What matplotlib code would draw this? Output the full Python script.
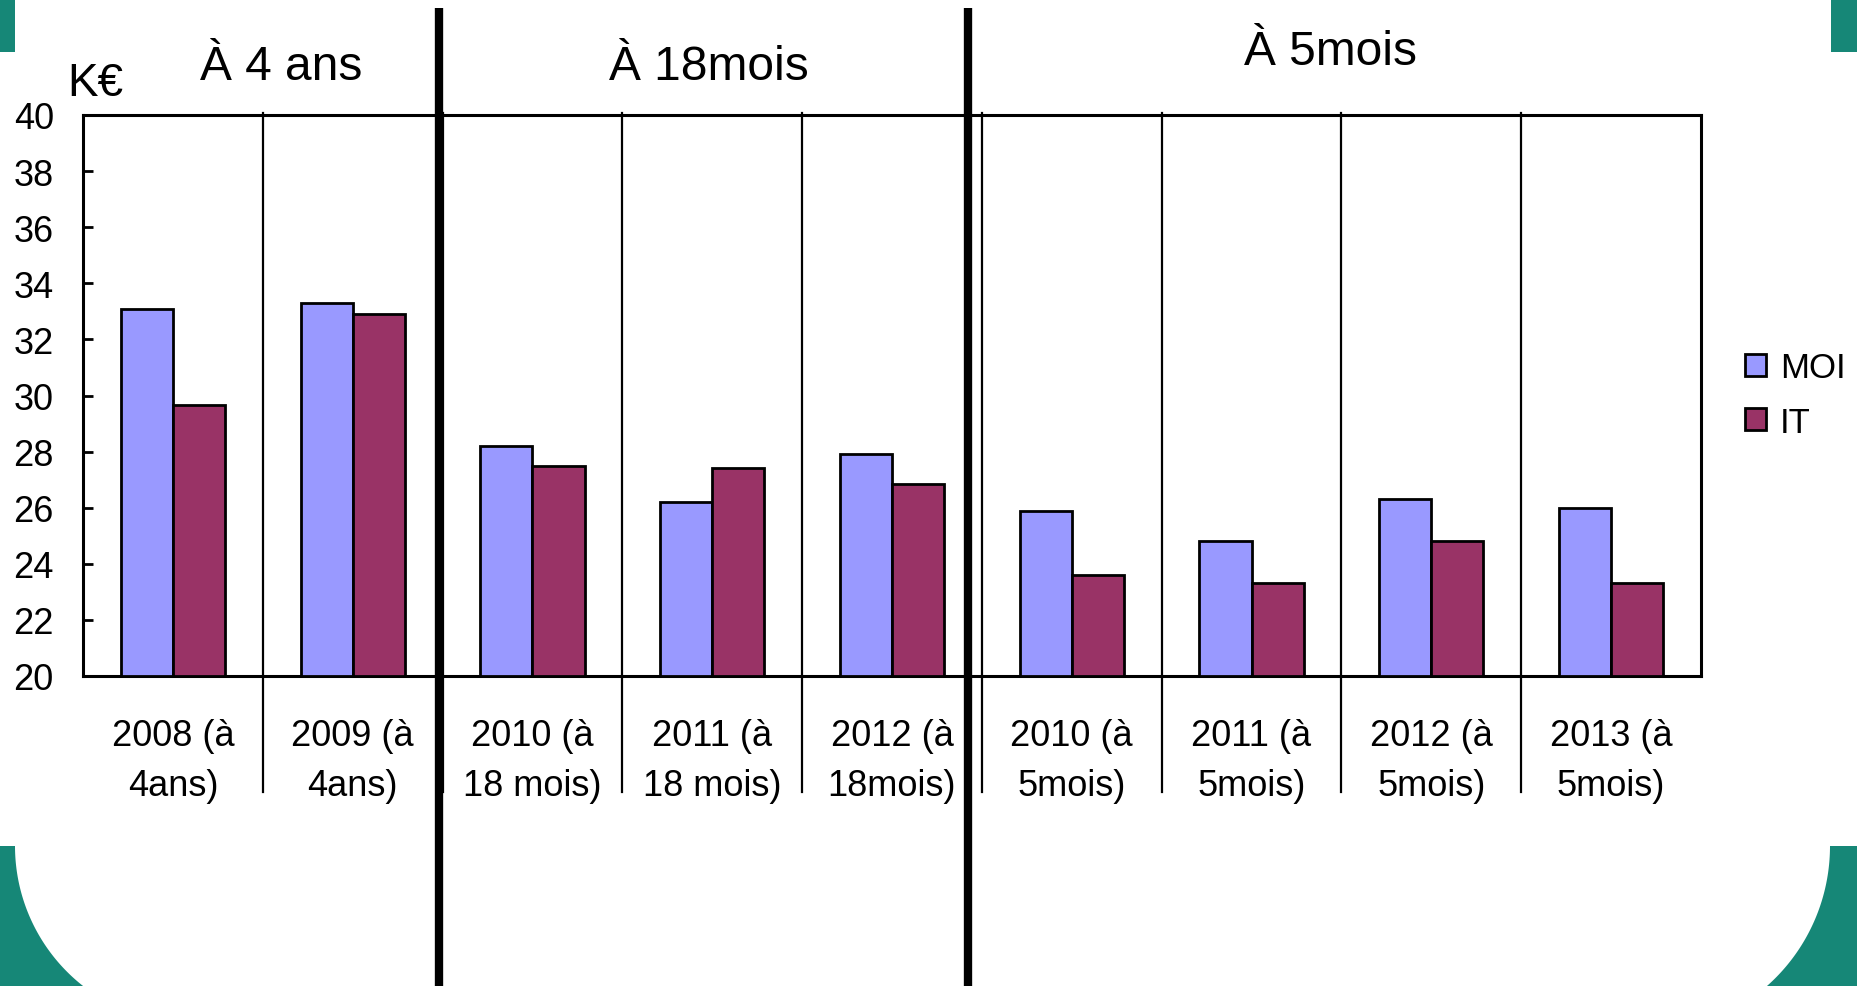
import numpy as np
import matplotlib
matplotlib.use("Agg")
import matplotlib.pyplot as plt
from matplotlib.patches import Polygon, Rectangle

plt.rcParams['font.family'] = ['Liberation Sans', 'DejaVu Sans']

# data
categories = ["2008 (à\n4ans)", "2009 (à\n4ans)", "2010 (à\n18 mois)", "2011 (à\n18 mois)",
              "2012 (à\n18mois)", "2010 (à\n5mois)", "2011 (à\n5mois)", "2012 (à\n5mois)",
              "2013 (à\n5mois)"]
moi = [33.1, 33.3, 28.2, 26.2, 27.9, 25.9, 24.8, 26.3, 26.0]
it = [29.65, 32.9, 27.5, 27.4, 26.85, 23.6, 23.3, 24.8, 23.3]
series_names = ["MOI", "IT"]
groups = ["À 4 ans", "À 18mois", "À 5mois"]
yticks = list(range(20, 41, 2))

# layout
W, H = 1858, 987
C_MOI = "#9999FF"
C_IT = "#993366"
TEAL = "#168777"
group_x = [0.6, 2.98, 6.44]          # data x of group titles
group_y = [1.064, 1.064, 1.091]      # axes y (baseline)
thick_x = [1.48, 4.42]               # thick dividers

fig = plt.figure(figsize=(W / 100, H / 100), dpi=100)
fig.patch.set_facecolor("white")

# background decoration (teal corners)
bg = fig.add_axes([0, 0, 1, 1], zorder=-5)
bg.set_xlim(0, W)
bg.set_ylim(H, 0)
bg.axis("off")
bg.add_patch(Rectangle((0, 0), 15, 53, color=TEAL, lw=0))
bg.add_patch(Rectangle((1831, 0), 27, 53, color=TEAL, lw=0))
R1 = 178
pts = [(0, 847)] + [(193 + R1 * np.cos(a), 847 + R1 * np.sin(np.pi - a)) for a in np.linspace(np.pi, np.pi - np.arcsin(140 / R1), 60)] + [(0, H)]
bg.add_patch(Polygon(pts, closed=True, color=TEAL, lw=0))
R2 = 187
pts = [(W, 847)] + [(1830 - R2 + R2 * np.cos(a), 847 + R2 * np.sin(a)) for a in np.linspace(0, np.arcsin(140 / R2), 60)] + [(W, H)]
bg.add_patch(Polygon(pts, closed=True, color=TEAL, lw=0))

ax = fig.add_axes([83 / W, 310 / H, (1701 - 83) / W, 561 / H])
x = np.arange(len(categories))
w = 0.29
ax.bar(x - w / 2, np.array(moi) - 20, w, bottom=20, color=C_MOI, edgecolor="black", linewidth=2, label=series_names[0], zorder=3)
ax.bar(x + w / 2, np.array(it) - 20, w, bottom=20, color=C_IT, edgecolor="black", linewidth=2, label=series_names[1], zorder=3)

ax.set_xlim(-0.5, len(categories) - 0.5)
ax.set_ylim(20, 40)
ax.set_yticks(yticks)
ax.tick_params(axis="y", direction="in", length=7.5, width=2, labelsize=26, pad=21)
ax.set_xticks(x)
ax.set_xticklabels(categories, fontsize=26, linespacing=1.58)
ax.tick_params(axis="x", length=0, pad=30)
for s in ax.spines.values():
    s.set_linewidth(2.2)

# thin category separators
trans = ax.get_xaxis_transform()
for b in np.arange(0.5, len(categories) - 0.5, 1):
    ax.plot([b, b], [1.004, -0.207], transform=trans, color="black", lw=1.6, clip_on=False, zorder=4)
# thick group dividers
for tx in thick_x:
    ax.plot([tx, tx], [1.19, -0.56], transform=trans, color="black", lw=6, clip_on=False, zorder=6, solid_capstyle="butt")

for g, gx, gy in zip(groups, group_x, group_y):
    ax.text(gx, gy, g, transform=trans, ha="center", va="baseline", fontsize=34.5)

ax.text(0.0074, 1.0357, "K€", transform=ax.transAxes, ha="center", va="baseline", fontsize=33)

leg = ax.legend(loc="center left", bbox_to_anchor=(1745 / W, 1 - 396 / H), bbox_transform=fig.transFigure,
                frameon=False, fontsize=25, handlelength=0.6, handleheight=0.6, handletextpad=0.4,
                labelspacing=0.61, borderpad=0, borderaxespad=0)

fig.savefig("out.png", dpi=100, facecolor="white")
